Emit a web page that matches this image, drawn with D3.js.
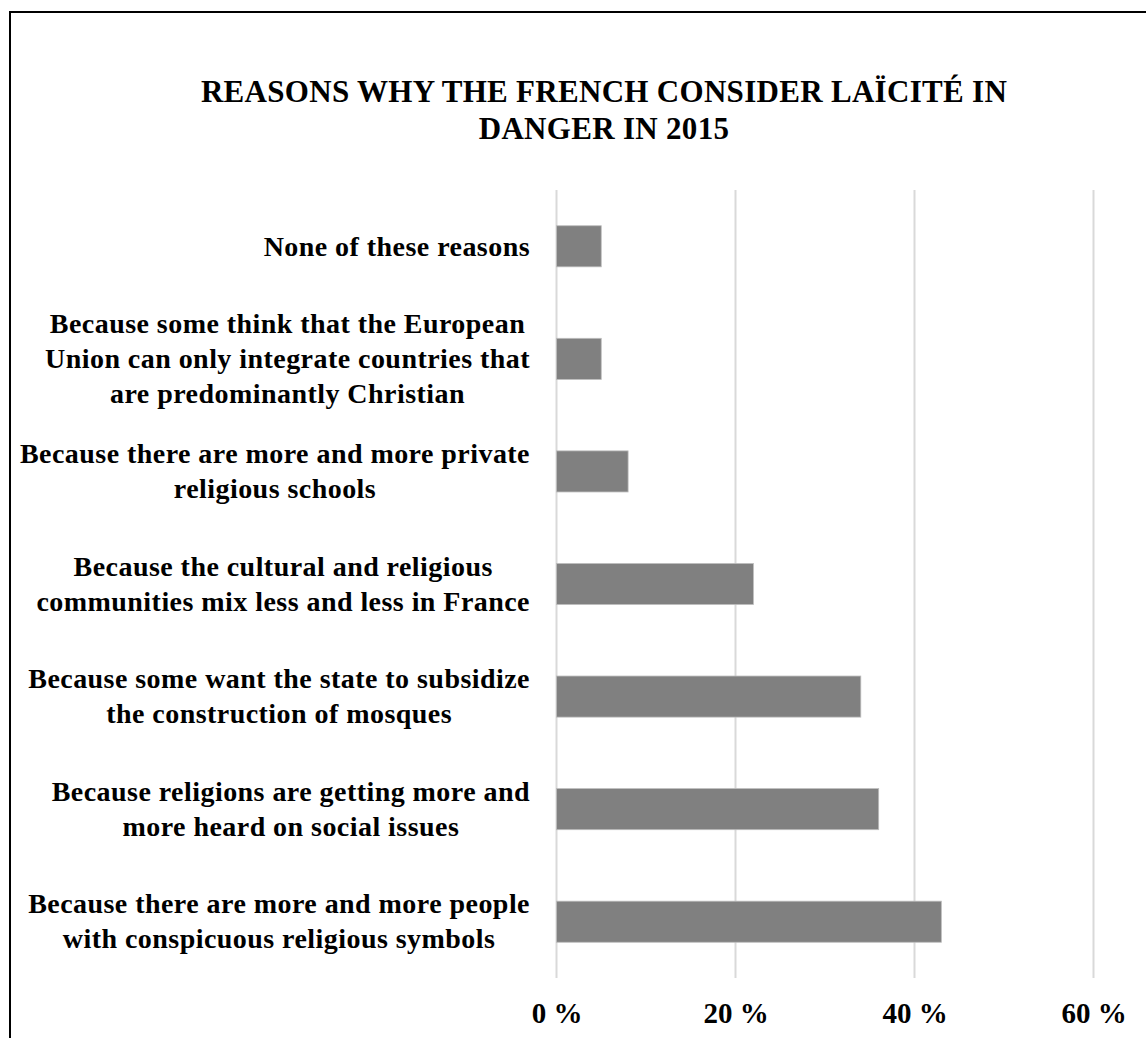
<!DOCTYPE html>
<html>
<head>
<meta charset="utf-8">
<script src="https://cdn.jsdelivr.net/npm/d3@7"></script>
<style>
  html, body { margin: 0; padding: 0; background: #fff; }
  svg { display: block; }
  text { font-family: "Liberation Serif", "Times New Roman", serif; font-weight: bold; fill: #000; }
</style>
</head>
<body>
<svg id="chart" width="1146" height="1038"></svg>
<script>
const titleLines = ["REASONS WHY THE FRENCH CONSIDER LAÏCITÉ IN", "DANGER IN 2015"];
const categories = [
  ["None of these reasons"],
  ["Because some think that the European", "Union can only integrate countries that", "are predominantly Christian"],
  ["Because there are more and more private", "religious schools"],
  ["Because the cultural and religious", "communities mix less and less in France"],
  ["Because some want the state to subsidize", "the construction of mosques"],
  ["Because religions are getting more and", "more heard on social issues"],
  ["Because there are more and more people", "with conspicuous religious symbols"]
];
const values = [5, 5, 8, 22, 34, 36, 43];
const tickValues = [0, 20, 40, 60];
const tickLabels = ["0 %", "20 %", "40 %", "60 %"];

const svg = d3.select("#chart");

// outer frame
svg.append("rect").attr("x", 10).attr("y", 12).attr("width", 1150).attr("height", 1040)
  .attr("fill", "none").attr("stroke", "#000").attr("stroke-width", 2);

// title
svg.append("g").selectAll("text").data(titleLines).join("text")
  .attr("x", 604).attr("y", (d, i) => 102 + i * 37)
  .attr("text-anchor", "middle").style("font-size", "31px").style("letter-spacing", "0.3px").text(d => d);

const x = d3.scaleLinear().domain([0, 60]).range([556.5, 1093.5]);
const idx = d3.range(categories.length);
const y = d3.scaleBand().domain(idx).range([190, 978]).paddingInner(0.635).paddingOuter(0.3175);

// gridlines
svg.append("g").selectAll("line").data(tickValues).join("line")
  .attr("x1", d => x(d)).attr("x2", d => x(d)).attr("y1", 190).attr("y2", 978)
  .attr("stroke", "#d9d9d9").attr("stroke-width", 2);

// bars
svg.append("g").selectAll("rect").data(idx).join("rect")
  .attr("x", x(0)).attr("y", i => y(i)).attr("width", i => x(values[i]) - x(0))
  .attr("height", y.bandwidth()).attr("fill", "#808080").attr("stroke", "#bdbdbd").attr("stroke-width", 0.8);

// x axis tick labels
const xAxis = d3.axisBottom(x).tickValues(tickValues).tickFormat((d, i) => tickLabels[i]).tickSize(0).tickPadding(0);
const ax = svg.append("g").attr("transform", "translate(0,1003)").call(xAxis);
ax.select(".domain").remove();
ax.selectAll("text").attr("dy", null).attr("y", 20)
  .style("font-size", "29px").style("font-family", '"Liberation Serif", serif').style("font-weight", "bold").attr("fill", "#000");

// category labels: block right-aligned, lines centered within block
const labelRight = 530, lineH = 35, fs = 28;
const lg = svg.append("g");
idx.forEach(i => {
  const lines = categories[i];
  const g = lg.append("g");
  const ts = g.selectAll("text").data(lines).join("text")
    .style("font-size", fs + "px").style("letter-spacing", "0.45px").text(d => d);
  const widths = [];
  ts.each(function() { widths.push(this.getComputedTextLength()); });
  const maxW = d3.max(widths);
  const cx = labelRight - maxW / 2;
  const cy = y(i) + y.bandwidth() / 2;
  const n = lines.length;
  ts.attr("text-anchor", "middle").attr("x", cx)
    .attr("y", (d, k) => cy + (k - (n - 1) / 2) * lineH + fs * 0.33);
});
</script>
</body>
</html>
